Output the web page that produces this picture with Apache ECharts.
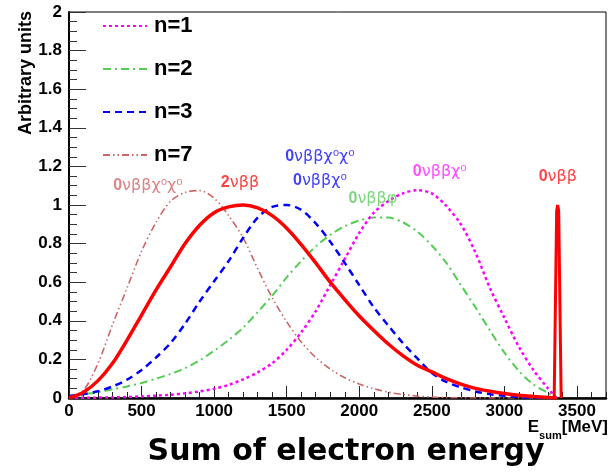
<!DOCTYPE html>
<html>
<head>
<meta charset="utf-8">
<title>Sum of electron energy</title>
<script src="https://cdn.jsdelivr.net/npm/echarts@6/dist/echarts.min.js"></script>
<style>body{margin:0;background:#fff;}</style>
</head>
<body>
<div id="main" style="width:612px;height:472px;"></div>
<script type="text/javascript">
// energy grid in keV (last point = Q value)
var energy = [0,100,200,300,400,500,600,700,800,900,1000,1100,1200,1300,1400,1500,1600,1700,
              1800,1900,2000,2100,2200,2300,2400,2500,2600,2700,2800,2900,3000,3100,3200,3300,3360];

// spectral index n=1 (0vbbX0)
var n1 = [0,0.001,0.002,0.003,0.005,0.008,0.012,0.017,0.024,0.034,0.048,0.068,0.097,0.133,0.18,0.25,0.34,
          0.45,0.585,0.72,0.855,0.96,1.02,1.06,1.077,1.06,0.995,0.90,0.755,0.57,0.415,0.265,0.145,0.05,0];
// n=2 (0vbb phi)
var n2 = [0.01,0.02,0.03,0.045,0.06,0.078,0.10,0.125,0.155,0.195,0.245,0.30,0.365,0.445,0.53,0.625,0.71,
          0.785,0.845,0.89,0.92,0.935,0.935,0.91,0.862,0.79,0.70,0.585,0.47,0.35,0.235,0.14,0.07,0.026,0];
// n=3 (0vbbX0X0 / 0vbbX0)
var n3 = [0.01,0.02,0.035,0.06,0.095,0.145,0.21,0.285,0.385,0.50,0.605,0.71,0.83,0.935,0.99,1.0,0.975,
          0.905,0.81,0.70,0.585,0.47,0.375,0.285,0.205,0.13,0.083,0.055,0.034,0.02,0.011,0.005,0.002,0.001,0];
// n=7 (0vbbX0X0)
var n7 = [0,0.04,0.18,0.38,0.57,0.76,0.91,1.02,1.065,1.075,1.035,0.945,0.83,0.67,0.52,0.395,0.29,
          0.21,0.15,0.105,0.072,0.048,0.03,0.018,0.01,0.005,0.002,0.001,0,0,0,0,0,0,0];
// 2vbb (n=5)
var twoNu = [0,0.03,0.09,0.18,0.30,0.43,0.56,0.68,0.80,0.895,0.96,0.99,1.0,0.985,0.945,0.88,0.795,
             0.70,0.60,0.51,0.425,0.35,0.28,0.22,0.17,0.135,0.10,0.072,0.05,0.035,0.023,0.014,0.008,0.003,0];
// 0vbb peak
var peakE = [3343,3360,3367,3374,3391];
var peakV = [0,0.97,1.0,0.97,0];

// curve labels
var labelText  = ['0|νββχ⁰χ⁰', '2|νββ', '0|νββχ⁰χ⁰', '0|νββχ⁰', '0|νββφ', '0|νββχ⁰', '0|νββ'];
var labelE     = [544, 1178, 1729, 1729, 2094, 2555, 3368];
var labelV     = [1.098, 1.114, 1.249, 1.124, 1.031, 1.171, 1.145];
var labelColor = ['#d06666', '#ff1010', '#1010ff', '#1010ff', '#5ccc5c', '#ff22ff', '#ff1010'];

function pairs(xs, ys) {
    var out = [];
    for (var i = 0; i < xs.length; i++) out.push([xs[i], ys[i]]);
    return out;
}

var labelData = [];
for (var i = 0; i < labelText.length; i++) {
    var parts = labelText[i].split('|');
    labelData.push({
        value: [labelE[i], labelV[i]],
        label: {
            formatter: '{a|' + parts[0] + '}{b|' + parts[1] + '}',
            rich: {
                a: {color: labelColor[i], fontSize: 16, fontWeight: 'bold', fontFamily: 'Liberation Sans'},
                b: {color: labelColor[i], fontSize: 16, fontFamily: 'DejaVu Sans', fontWeight: 'normal'}
            }
        }
    });
}

var myChart = echarts.init(document.getElementById('main'));

var option = {
    animation: false,
    backgroundColor: '#fff',
    grid: {left: 69, right: 6, top: 12, bottom: 74, show: true, borderColor: '#000', borderWidth: 1,
           outerBoundsMode: 'none'},
    legend: {
        data: ['n=1', 'n=2', 'n=3', 'n=7'],
        orient: 'vertical', left: 102, top: 15, padding: 0,
        itemWidth: 44, itemHeight: 14, itemGap: 21,
        itemStyle: {opacity: 0},
        textStyle: {fontSize: 22, fontWeight: 'bold', color: '#000', fontFamily: 'Liberation Sans',
                    padding: [0, 0, 0, 2]}
    },
    xAxis: [{
        type: 'value', min: 0, max: 3700, interval: 500,
        axisLine: {lineStyle: {color: '#000', width: 2.5}},
        axisTick: {inside: true, length: 12, lineStyle: {color: '#222'}},
        axisLabel: {showMaxLabel: false, fontSize: 17, fontWeight: 'bold', color: '#000',
                    fontFamily: 'Liberation Sans', margin: 5,
                    formatter: function (v) { return String(v); }},
        splitLine: {show: false}
    }, {
        // minor ticks every 100
        type: 'value', min: 0, max: 3700, interval: 100, position: 'bottom',
        axisLine: {show: false},
        axisTick: {inside: true, length: 6, lineStyle: {color: '#222'}},
        axisLabel: {show: false},
        splitLine: {show: false}
    }],
    yAxis: {
        type: 'value', min: 0, max: 2, interval: 0.2,
        axisLine: {lineStyle: {color: '#000', width: 2}},
        axisTick: {inside: true, length: 17, lineStyle: {color: '#333'}},
        minorTick: {show: true, splitNumber: 4, length: 8, lineStyle: {color: '#333'}},
        axisLabel: {fontSize: 17, fontWeight: 'bold', color: '#000', fontFamily: 'Liberation Sans', margin: 7},
        splitLine: {show: false}
    },
    graphic: [{
        type: 'text', x: 26, y: 11, rotation: Math.PI / 2,
        style: {text: 'Arbitrary units', fontSize: 18, fontWeight: 'bold', fontFamily: 'Liberation Sans',
                fill: '#000', align: 'right', verticalAlign: 'middle'}
    }, {
        type: 'text', x: 608, y: 419,
        style: {text: '{e|E}{s|sum}{e|[MeV]}', align: 'right', verticalAlign: 'top',
            rich: {
                e: {fontSize: 17, fontWeight: 'bold', fill: '#000', fontFamily: 'Liberation Sans',
                    verticalAlign: 'top', padding: [0, 0, 5, 0]},
                s: {fontSize: 11, fontWeight: 'bold', fill: '#000', fontFamily: 'Liberation Sans',
                    verticalAlign: 'bottom'}
            }}
    }, {
        type: 'text', x: 346, y: 452,
        style: {text: 'Sum of electron energy', fontSize: 30, fontWeight: 'bold',
                fontFamily: '"Comic Sans MS", "DejaVu Sans"', fill: '#000', align: 'center', verticalAlign: 'middle'}
    }],
    series: [{
        name: 'n=7', type: 'line', data: pairs(energy, n7), symbol: 'none', smooth: 0.3,
        lineStyle: {color: '#cc6666', width: 1.6, type: [7, 3, 1.5, 3, 1.5, 3]},
        itemStyle: {color: '#cc6666'}, z: 2
    }, {
        name: 'n=2', type: 'line', data: pairs(energy, n2), symbol: 'none', smooth: 0.3,
        lineStyle: {color: '#55cc55', width: 2, type: [8, 4, 2, 4]},
        itemStyle: {color: '#55cc55'}, z: 2
    }, {
        name: 'n=1', type: 'line', data: pairs(energy, n1), symbol: 'none', smooth: 0.3,
        lineStyle: {color: '#ff00ff', width: 2.5, type: [3, 3]},
        itemStyle: {color: '#ff00ff'}, z: 3
    }, {
        name: 'n=3', type: 'line', data: pairs(energy, n3), symbol: 'none', smooth: 0.3,
        lineStyle: {color: '#0000ff', width: 2.5, type: [7, 5]},
        itemStyle: {color: '#0000ff'}, z: 3
    }, {
        name: '2vbb', type: 'line', data: pairs(energy, twoNu), symbol: 'none', smooth: 0.3,
        lineStyle: {color: '#ff0000', width: 3.5},
        itemStyle: {color: '#ff0000'}, z: 4
    }, {
        name: '0vbb', type: 'line', data: pairs(peakE, peakV), symbol: 'none',
        lineStyle: {color: '#ff0000', width: 3},
        itemStyle: {color: '#ff0000'}, z: 4
    }, {
        name: 'labels', type: 'scatter', data: labelData, symbolSize: 0, silent: true,
        label: {show: true, position: 'inside'}, z: 5
    }]
};

myChart.setOption(option);
</script>
</body>
</html>
